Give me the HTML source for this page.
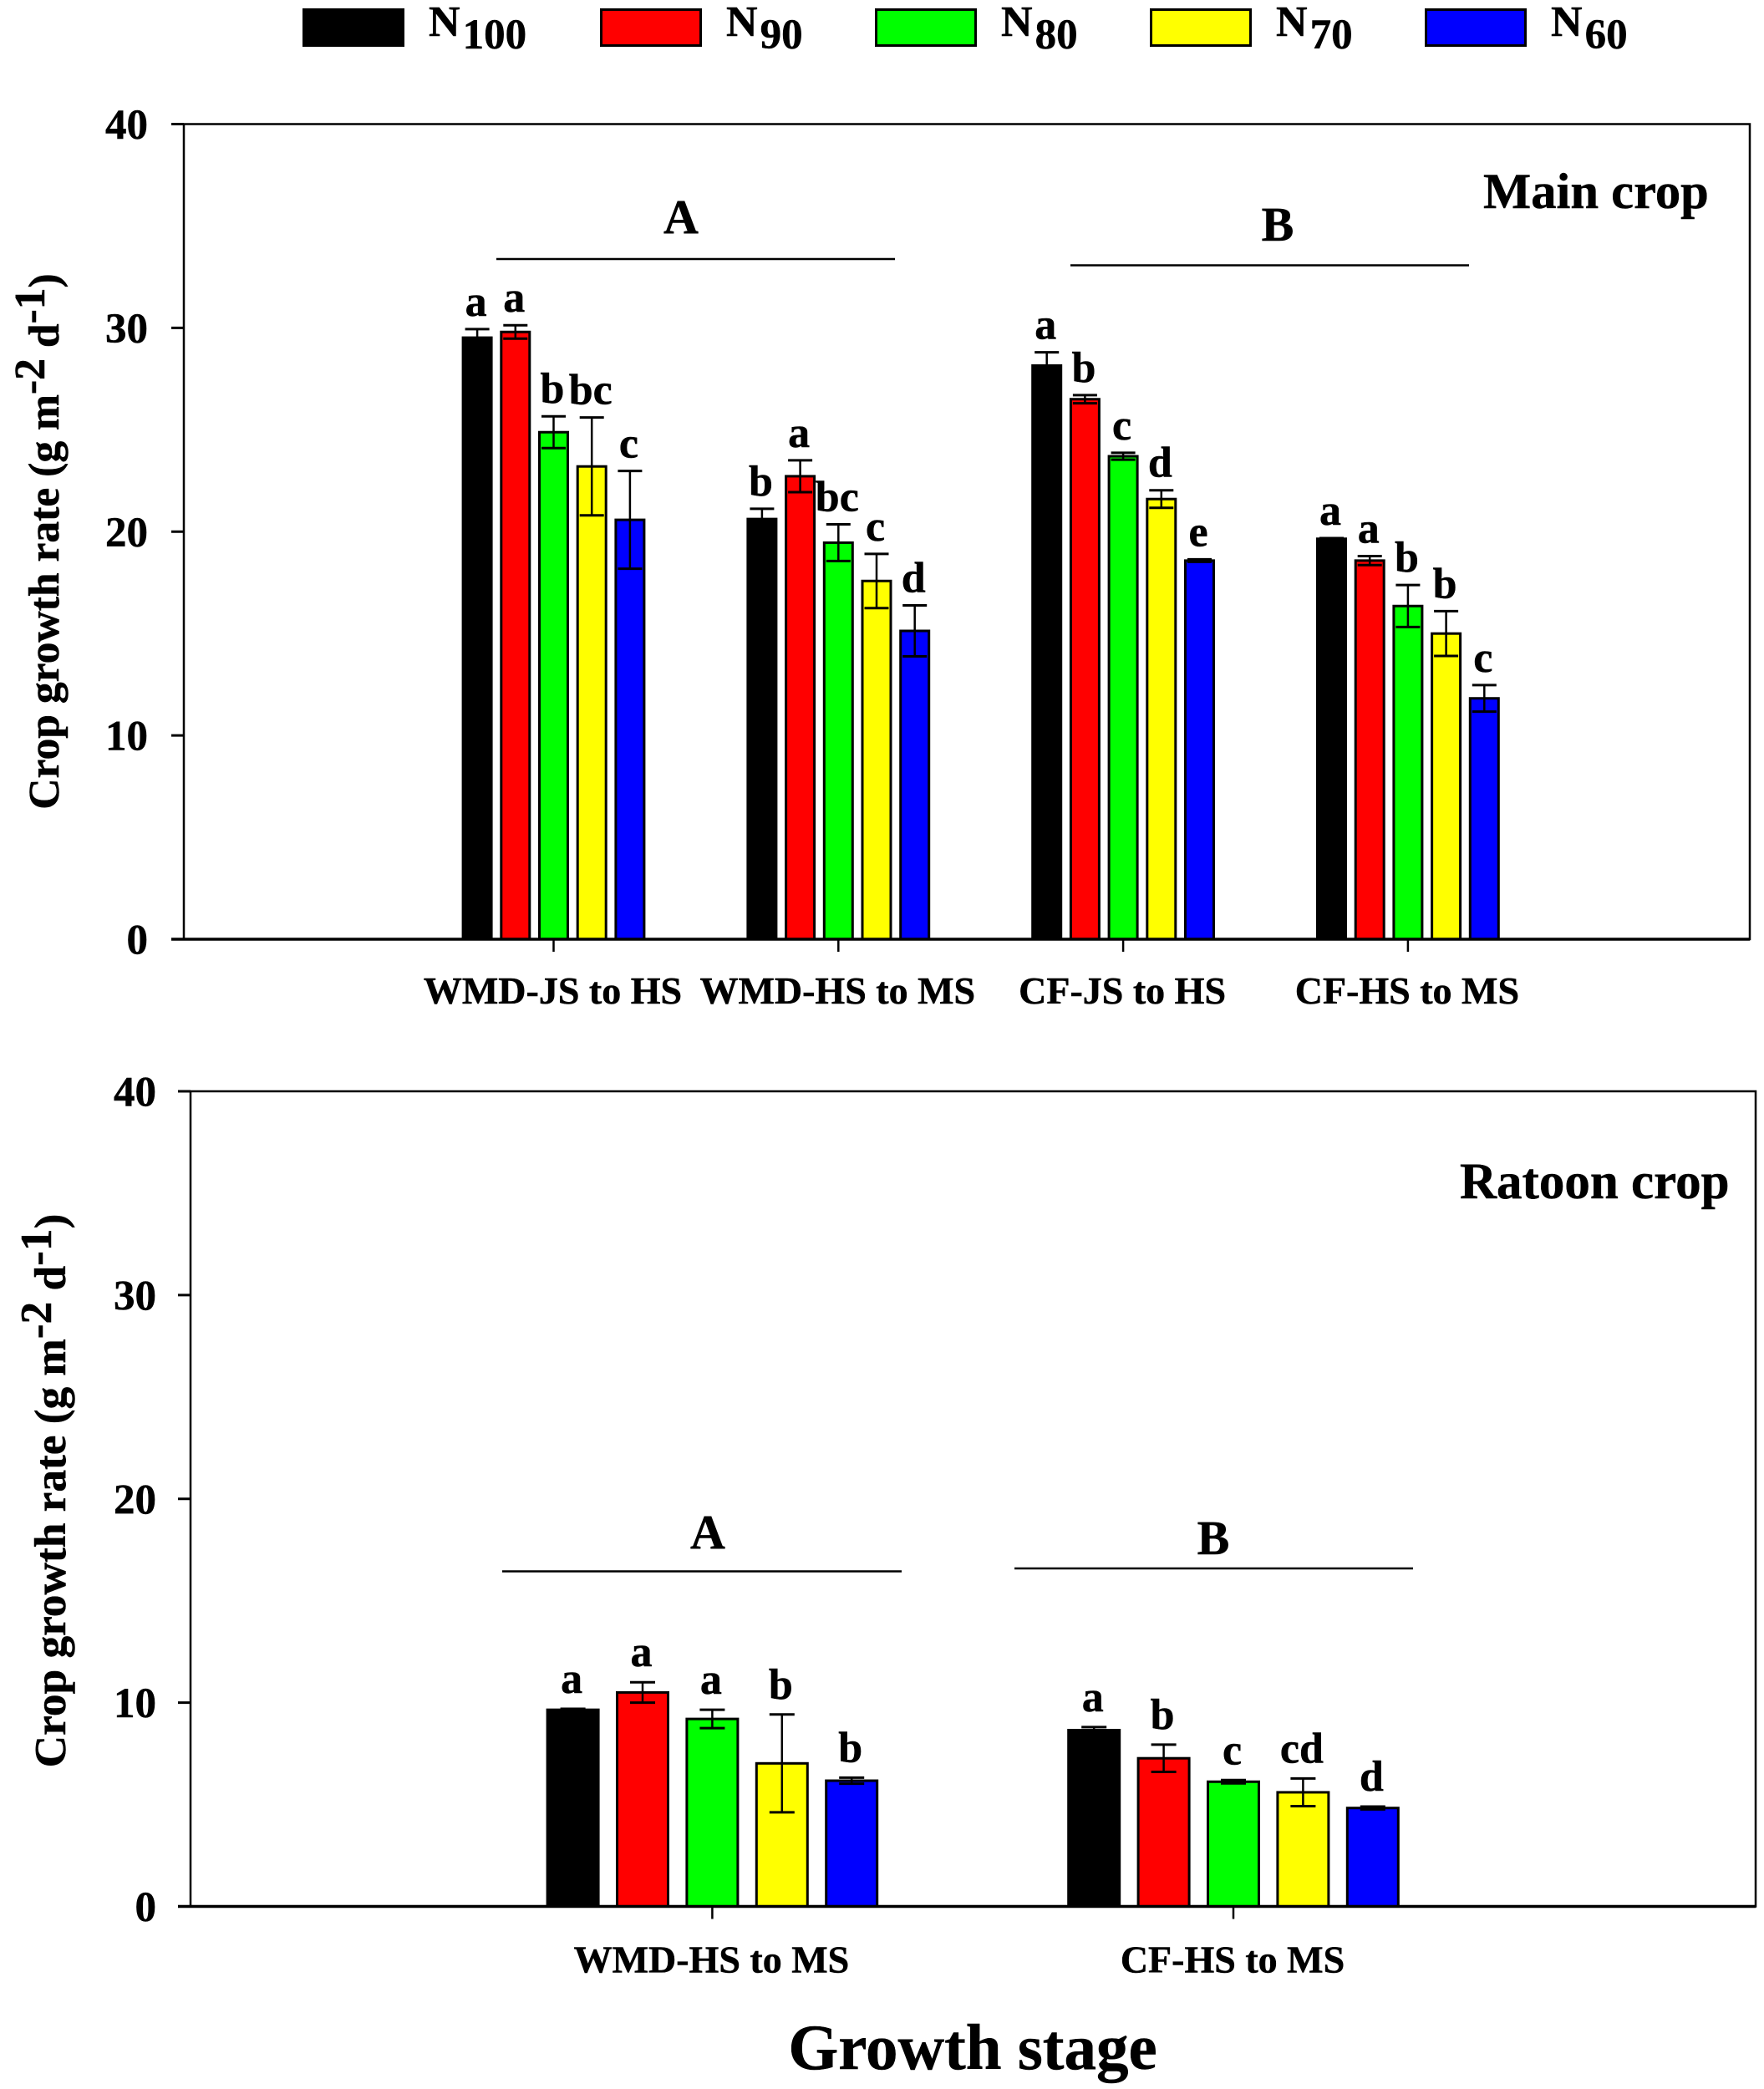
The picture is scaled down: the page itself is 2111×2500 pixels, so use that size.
<!DOCTYPE html>
<html lang="en">
<head>
<meta charset="utf-8">
<title>Crop growth rate by growth stage</title>
<style>
html,body{margin:0;padding:0;background:#fff;}
svg{display:block;}
text{font-family:"Liberation Serif",serif;font-weight:bold;fill:#000;stroke:#000;stroke-width:0.5px;}
</style>
</head>
<body>
<svg id="chart" xmlns="http://www.w3.org/2000/svg" width="2111" height="2500" viewBox="0 0 2111 2500"></svg>
<script>
// Shared chart data
const seriesLabels = ['100', '90', '80', '70', '60'];
const yTickLabels = [0, 10, 20, 30, 40];

// Main crop
const mainCategories = ['WMD-JS to HS', 'WMD-HS to MS', 'CF-JS to HS', 'CF-HS to MS'];
const mainN100 = [29.52, 20.62, 28.15, 19.65];
const mainN90 = [29.8, 22.72, 26.5, 18.58];
const mainN80 = [24.88, 19.46, 23.7, 16.35];
const mainN70 = [23.2, 17.58, 21.6, 15.0];
const mainN60 = [20.58, 15.13, 18.58, 11.82];
const mainErrN100 = [0.42, 0.5, 0.65, 0.03];
const mainErrN90 = [0.33, 0.78, 0.2, 0.22];
const mainErrN80 = [0.78, 0.9, 0.17, 1.03];
const mainErrN70 = [2.4, 1.33, 0.43, 1.1];
const mainErrN60 = [2.4, 1.25, 0.06, 0.65];
const mainLetN100 = ['a', 'b', 'a', 'a'];
const mainLetN90 = ['a', 'a', 'b', 'a'];
const mainLetN80 = ['b', 'bc', 'c', 'b'];
const mainLetN70 = ['bc', 'c', 'd', 'b'];
const mainLetN60 = ['c', 'd', 'e', 'c'];

// Ratoon crop
const ratoonCategories = ['WMD-HS to MS', 'CF-HS to MS'];
const ratoonN100 = [9.65, 8.65];
const ratoonN90 = [10.5, 7.27];
const ratoonN80 = [9.2, 6.12];
const ratoonN70 = [7.02, 5.6];
const ratoonN60 = [6.17, 4.83];
const ratoonErrN100 = [0.05, 0.15];
const ratoonErrN90 = [0.5, 0.67];
const ratoonErrN80 = [0.45, 0.08];
const ratoonErrN70 = [2.4, 0.68];
const ratoonErrN60 = [0.15, 0.07];
const ratoonLetN100 = ['a', 'a'];
const ratoonLetN90 = ['a', 'b'];
const ratoonLetN80 = ['a', 'c'];
const ratoonLetN70 = ['b', 'cd'];
const ratoonLetN60 = ['b', 'd'];

const svgNS = 'http://www.w3.org/2000/svg';
const root = document.getElementById('chart');
const fills = ['#000000', '#ff0000', '#00ff00', '#ffff00', '#0000ff'];

function shape(parent, tag, props) {
  const e = document.createElementNS(svgNS, tag);
  for (const k in props) e.setAttribute(k, props[k]);
  parent.appendChild(e);
  return e;
}
function label(parent, x, y, str, size, anchor) {
  const e = shape(parent, 'text', {x: x, y: y, 'font-size': size, 'text-anchor': anchor || 'middle'});
  e.textContent = str;
  return e;
}
function hline(parent, x1, x2, y, w) {
  return shape(parent, 'line', {x1: x1, x2: x2, y1: y, y2: y, stroke: '#000', 'stroke-width': w});
}
function vline(parent, x, y1, y2, w) {
  return shape(parent, 'line', {x1: x, x2: x, y1: y1, y2: y2, stroke: '#000', 'stroke-width': w});
}

// Legend
const legend = shape(root, 'g', {});


const legendSwatchX = [362, 718, 1047, 1376, 1705];
seriesLabels.forEach(function (s, i) {
  const entry = shape(legend, 'g', {});
  
  
  const box = shape(entry, 'rect', {x: legendSwatchX[i] + 1.5, y: 11.5, width: 119, height: 43, fill: fills[i], stroke: '#000', 'stroke-width': 3});
  
  
  const t = label(entry, legendSwatchX[i] + 151, 43, 'N', 52, 'start');
  
  
  const sub = shape(t, 'tspan', {dy: 15, dx: 3, 'font-size': 51});
  sub.textContent = s;
});

function drawPanel(cfg) {
  const g = shape(root, 'g', {});
  
  

  const yScale = function (v) { return cfg.y0 - (v / 40) * (cfg.y0 - cfg.y40); };
  const xCat = function (i) { return cfg.x0 + cfg.catStep * i; };
  const xBar = function (i, s) { return xCat(i) + (s - 2) * cfg.barStep; };

  // bars and error bars
  cfg.series.forEach(function (vals, s) {
    const sg = shape(g, 'g', {});
    
    
    vals.forEach(function (v, i) {
      const cx = xBar(i, s);
      const top = yScale(v);
      const bar = shape(sg, 'rect', {x: cx - cfg.barW / 2, y: top, width: cfg.barW, height: cfg.y0 - top, fill: fills[s], stroke: '#000', 'stroke-width': 3});
      
      

      const err = cfg.errors[s][i];
      const hi = yScale(v + err);
      const lo = yScale(v - err);
      const eb = shape(sg, 'g', {});
      
      
      vline(eb, cx, hi, lo, 2.5);
      hline(eb, cx - cfg.capW / 2, cx + cfg.capW / 2, hi, 3);
      hline(eb, cx - cfg.capW / 2, cx + cfg.capW / 2, lo, 3);

      const let_ = label(sg, cx - 1.5, hi - cfg.letterGap, cfg.letters[s][i], 52);
      
      
    });
  });

  // frame
  const frame = shape(g, 'rect', {x: cfg.left, y: cfg.y40, width: cfg.right - cfg.left, height: cfg.y0 - cfg.y40, fill: 'none', stroke: '#000', 'stroke-width': 2.5});
  
  
  const base = hline(g, cfg.left - 15, cfg.right, cfg.y0, 3.5);
  
  

  // y ticks
  yTickLabels.forEach(function (v) {
    const y = yScale(v);
    const tick = hline(g, cfg.left - 15, cfg.left, y, 3);
    
    
    const tl = label(g, cfg.left - cfg.tickGap, y + 17.5, String(v), 51, 'end');
    
    
  });

  // x ticks
  cfg.categories.forEach(function (c, i) {
    const x = xCat(i);
    const tick = vline(g, x, cfg.y0, cfg.y0 + 15, 2.5);
    
    
    const tl = label(g, x - 1, cfg.y0 + cfg.catLabelDy, c, 46);
    
    
  });

  // y title
  const title = shape(g, 'text', {
    x: 0, y: 0, 'font-size': cfg.titleSize, 'text-anchor': 'middle',
    transform: 'translate(' + cfg.titleX + ' ' + cfg.titleY + ') rotate(-90)'
  });
  
  
  title.appendChild(document.createTextNode('Crop growth rate (g m'));
  const s1 = shape(title, 'tspan', {dy: -17});
  s1.textContent = '-2';
  const m1 = shape(title, 'tspan', {dy: 17});
  m1.textContent = ' d';
  const s2 = shape(title, 'tspan', {dy: -17});
  s2.textContent = '-1';
  const m2 = shape(title, 'tspan', {dy: 17});
  m2.textContent = ')';

  // panel label
  const pl = label(g, cfg.panelX, cfg.panelY, cfg.panelLabel, cfg.panelSize, 'start');
  
  

  // group brackets
  cfg.groups.forEach(function (gr) {
    const t = label(g, gr.tx, gr.ty, gr.text, 58);
    
    
    const l = hline(g, gr.x1, gr.x2, gr.ly, 2.5);
    
    
  });
}

drawPanel({
  name: 'main-crop',
  left: 220, right: 2094, y40: 148.5, y0: 1124,
  x0: 662.5, catStep: 340.8, barStep: 45.7, barW: 34, capW: 29, letterGap: 16,
  tickGap: 43, catLabelDy: 77,
  categories: mainCategories,
  series: [mainN100, mainN90, mainN80, mainN70, mainN60],
  errors: [mainErrN100, mainErrN90, mainErrN80, mainErrN70, mainErrN60],
  letters: [mainLetN100, mainLetN90, mainLetN80, mainLetN70, mainLetN60],
  titleSize: 51.6, titleX: 70, titleY: 648,
  panelLabel: 'Main crop', panelSize: 60.6, panelX: 1775, panelY: 249,
  groups: [
    {text: 'A', tx: 815, ty: 279, x1: 594, x2: 1071, ly: 310},
    {text: 'B', tx: 1529, ty: 288, x1: 1281, x2: 1758, ly: 317.5}
  ]
});

drawPanel({
  name: 'ratoon-crop',
  left: 228, right: 2101, y40: 1306, y0: 2281.5,
  x0: 852.4, catStep: 623.6, barStep: 83.4, barW: 61, capW: 30, letterGap: 19,
  tickGap: 41, catLabelDy: 79,
  categories: ratoonCategories,
  series: [ratoonN100, ratoonN90, ratoonN80, ratoonN70, ratoonN60],
  errors: [ratoonErrN100, ratoonErrN90, ratoonErrN80, ratoonErrN70, ratoonErrN60],
  letters: [ratoonLetN100, ratoonLetN90, ratoonLetN80, ratoonLetN70, ratoonLetN60],
  titleSize: 53.3, titleX: 78, titleY: 1784,
  panelLabel: 'Ratoon crop', panelSize: 61, panelX: 1747, panelY: 1434,
  groups: [
    {text: 'A', tx: 847, ty: 1853, x1: 601, x2: 1079, ly: 1880.5},
    {text: 'B', tx: 1452, ty: 1860, x1: 1214, x2: 1691, ly: 1877}
  ]
});

const xTitle = label(root, 1164, 2476, 'Growth stage', 77);


</script>
</body>
</html>
